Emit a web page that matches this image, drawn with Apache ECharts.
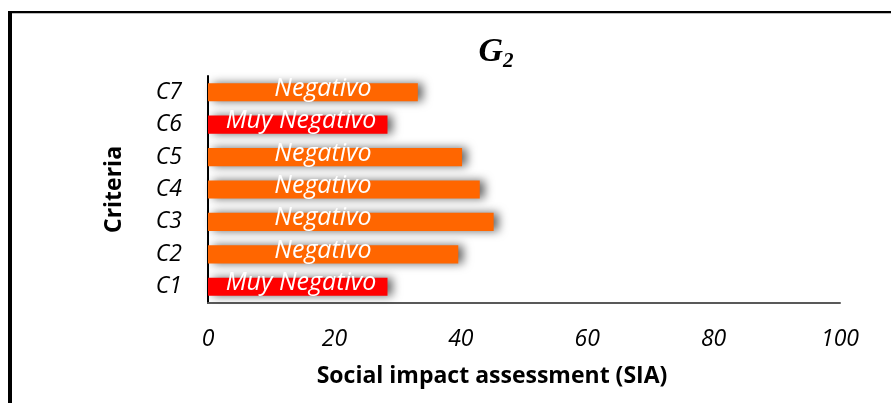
<!DOCTYPE html>
<html>
<head>
<meta charset="utf-8">
<script src="https://cdn.jsdelivr.net/npm/echarts@6/dist/echarts.min.js"></script>
<style>
  html, body { margin: 0; padding: 0; background: #fff; }
  #chart { width: 891px; height: 403px; }
</style>
</head>
<body>
<div id="chart"></div>
<script>
// datos
var criterios = ['C1', 'C2', 'C3', 'C4', 'C5', 'C6', 'C7'];
var valores = [28.4, 39.6, 45.2, 43.0, 40.2, 28.4, 33.2];
var etiquetas = ['Muy Negativo', 'Negativo', 'Negativo', 'Negativo', 'Negativo', 'Muy Negativo', 'Negativo'];
var xTicks = [0, 20, 40, 60, 80, 100];

var dom = document.getElementById('chart');
var myChart = echarts.init(dom);

var barData = [];
for (let i = 0; i < valores.length; i++) {
    var muy = etiquetas[i] === 'Muy Negativo';
    barData.push({
        value: valores[i],
        itemStyle: { color: muy ? '#ff0000' : '#ff6600' },
        label: {
            formatter: etiquetas[i],
            position: [muy ? 93 : 115, '30%']
        }
    });
}

var option = {
    animation: false,
    backgroundColor: '#fff',
    title: {
        text: '{g|G}{s|2}',
        left: 491,
        top: 28,
        textAlign: 'center',
        textStyle: {
            rich: {
                g: { fontFamily: 'Liberation Serif', fontWeight: 'bold', fontStyle: 'italic', fontSize: 34, color: '#000' },
                s: { fontFamily: 'Liberation Serif', fontWeight: 'bold', fontStyle: 'italic', fontSize: 21, color: '#000', padding: [18, 0, 0, 0] }
            }
        }
    },
    graphic: [
        { type: 'rect', shape: { x: 8, y: 11, width: 4, height: 400 }, style: { fill: '#000' } },
        { type: 'rect', shape: { x: 8, y: 11, width: 890, height: 2 }, style: { fill: '#000' } },
        { type: 'rect', shape: { x: 12, y: 13, width: 886, height: 1 }, style: { fill: '#bbb' } }
    ],
    grid: {
        left: 208,
        right: 51,
        top: 76,
        bottom: 100
    },
    xAxis: {
        type: 'value',
        min: 0,
        max: 100,
        interval: 20,
        name: 'Social impact assessment (SIA)',
        nameLocation: 'middle',
        nameGap: 62,
        nameTextStyle: {
            fontFamily: 'Open Sans',
            fontWeight: 'bold',
            fontSize: 23,
            color: '#000',
            padding: [0, 64, 0, 0]
        },
        axisLine: { show: true, lineStyle: { color: '#595959', width: 2 } },
        axisTick: { show: false },
        splitLine: { show: false },
        axisLabel: {
            margin: 25,
            fontFamily: 'Open Sans',
            fontStyle: 'italic',
            fontSize: 23,
            color: '#000',
            customValues: xTicks
        }
    },
    yAxis: {
        type: 'category',
        data: criterios,
        name: 'Criteria',
        nameLocation: 'middle',
        nameGap: 82,
        nameRotate: 90,
        nameTextStyle: {
            fontFamily: 'Open Sans',
            fontWeight: 'bold',
            fontSize: 23,
            color: '#000'
        },
        axisLine: { show: true, lineStyle: { color: '#000', width: 2 } },
        axisTick: { show: false },
        axisLabel: {
            margin: 26,
            fontFamily: 'Open Sans',
            fontStyle: 'italic',
            fontSize: 23,
            color: '#000'
        }
    },
    series: [
        {
            type: 'bar',
            data: barData,
            barWidth: '56%',
            itemStyle: {
                shadowBlur: 10,
                shadowColor: 'rgba(0,0,0,0.6)',
                shadowOffsetX: 5,
                shadowOffsetY: 0
            },
            label: {
                show: true,
                align: 'center',
                verticalAlign: 'middle',
                fontFamily: 'Open Sans',
                fontStyle: 'italic',
                fontSize: 25,
                color: '#fff'
            }
        }
    ]
};

myChart.setOption(option, true);
window.onresize = myChart.resize;
</script>
</body>
</html>
